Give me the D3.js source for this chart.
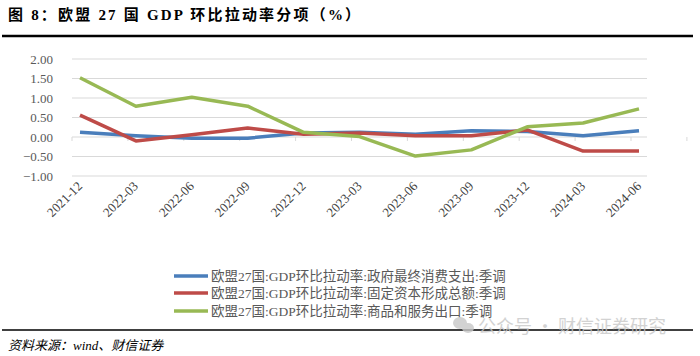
<!DOCTYPE html>
<html><head><meta charset="utf-8">
<script src="https://cdn.jsdelivr.net/npm/d3@7"></script>
<style>body{margin:0;background:#fff}svg{display:block}</style>
</head><body>
<svg id="c" width="700" height="356"></svg>
<script>
const categories = ["2021-12","2022-03","2022-06","2022-09","2022-12","2023-03","2023-06","2023-09","2023-12","2024-03","2024-06"];
const govValues = [0.12,0.03,-0.03,-0.03,0.10,0.12,0.07,0.16,0.14,0.03,0.16];
const capValues = [0.56,-0.10,0.06,0.23,0.07,0.10,0.03,0.03,0.18,-0.36,-0.36];
const expValues = [1.52,0.79,1.02,0.79,0.12,0.01,-0.49,-0.33,0.26,0.36,0.72];
const yTicks = [2.00,1.50,1.00,0.50,0.00,-0.50,-1.00];
const seriesNames = ["欧盟27国:GDP环比拉动率:政府最终消费支出:季调","欧盟27国:GDP环比拉动率:固定资本形成总额:季调","欧盟27国:GDP环比拉动率:商品和服务出口:季调"];
const colors = ["#4A7EBB","#BE4B48","#98B954"];
const series = [govValues, capValues, expValues];

const svg = d3.select("#c");
const serif = "'Liberation Serif','Times New Roman','Noto Sans CJK SC',serif";
svg.append("text").attr("x",8).attr("y",20).attr("font-family",serif).attr("font-weight","bold")
  .attr("font-size",15).attr("letter-spacing",2.2).attr("fill","#000").attr("xml:space","preserve")
  .text("图 8：欧盟 27 国 GDP 环比拉动率分项（%）");
svg.append("line").attr("x1",2).attr("x2",693).attr("y1",36).attr("y2",36).attr("stroke","#000").attr("stroke-width",2.5);

const x = d3.scalePoint().domain(categories).range([80,639]);
const y = d3.scaleLinear().domain([-1,2]).range([176,59]);
const gx0 = 72, gx1 = 647;

svg.append("g").selectAll("line").data(yTicks).join("line")
  .attr("x1",gx0).attr("x2",gx1).attr("y1",d=>y(d)).attr("y2",d=>y(d))
  .attr("stroke","#D9D9D9").attr("stroke-width",1);
svg.append("g").selectAll("text").data(yTicks).join("text")
  .attr("x",53).attr("y",d=>y(d)+4.5).attr("text-anchor","end")
  .attr("font-family",serif).attr("font-size",13).attr("fill","#595959")
  .text(d=>d3.format(".2f")(d));
const step = x.step();
svg.append("g").selectAll("line").data(d3.range(categories.length+1)).join("line")
  .attr("x1",i=>gx0+i*step).attr("x2",i=>gx0+i*step).attr("y1",y(0)).attr("y2",y(0)+4)
  .attr("stroke","#D9D9D9").attr("stroke-width",1);
svg.append("g").selectAll("text").data(categories).join("text")
  .attr("transform",d=>`translate(${x(d)+3},${187}) rotate(-45)`)
  .attr("text-anchor","end").attr("font-family",serif).attr("font-size",13).attr("fill","#404040")
  .text(d=>d);

const line = d3.line().x((d,i)=>x(categories[i])).y(d=>y(d));
series.forEach((s,k)=>{
  svg.append("path").attr("d",line(s)).attr("fill","none").attr("stroke",colors[k])
    .attr("stroke-width",3.5).attr("stroke-linejoin","round");
});

const lg = svg.append("g");
const ly = [276,293,311];
seriesNames.forEach((n,k)=>{
  lg.append("line").attr("x1",174).attr("x2",208).attr("y1",ly[k]).attr("y2",ly[k])
    .attr("stroke",colors[k]).attr("stroke-width",3.5);
  lg.append("text").attr("x",211).attr("y",ly[k]+5).attr("font-family",serif).attr("font-size",13.5)
    .attr("fill","#595959").text(n);
});

svg.append("line").attr("x1",2).attr("x2",693).attr("y1",330).attr("y2",330).attr("stroke","#000").attr("stroke-width",1.5);
svg.append("text").attr("x",8).attr("y",350).attr("font-family",serif).attr("font-style","italic")
  .attr("font-size",13).attr("fill","#000").text("资料来源：wind、财信证券");
// watermark
const wm = svg.append("g").attr("opacity",0.8);
wm.append("ellipse").attr("cx",460).attr("cy",323).attr("rx",7).attr("ry",6).attr("fill","#C8C8C8");
wm.append("ellipse").attr("cx",468).attr("cy",328).attr("rx",6).attr("ry",5).attr("fill","#C8C8C8");
wm.append("text").attr("x",478).attr("y",333).attr("font-family","'Noto Sans CJK SC',sans-serif")
  .attr("font-size",18).attr("fill","#C8C8C8").text("公众号 · 财信证券研究");
</script>
</body></html>
